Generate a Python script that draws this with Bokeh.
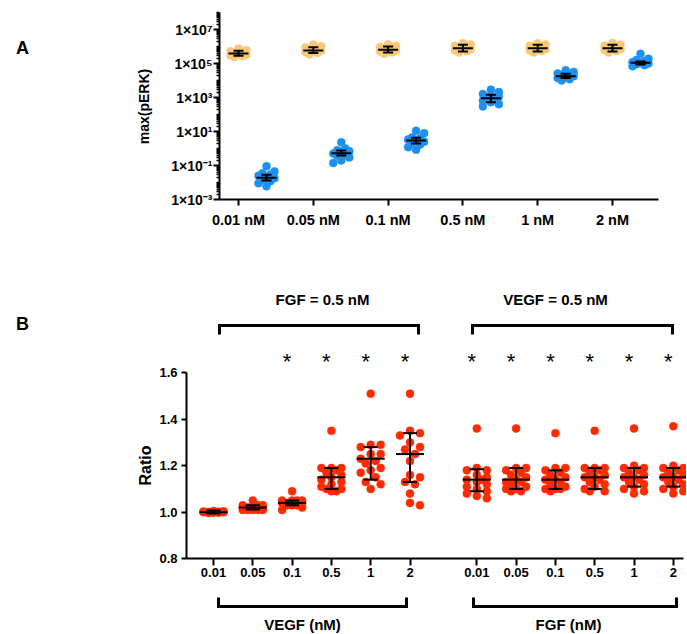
import numpy as np
from bokeh.plotting import figure
from bokeh.models import (ColumnDataSource, FixedTicker, Range1d, PrintfTickFormatter)
from bokeh.layouts import column
from bokeh.embed import file_html
from bokeh.resources import INLINE
from bokeh.core.properties import value

# ---------------- Panel A data ----------------
conc_labels_a = ["0.01 nM", "0.05 nM", "0.1 nM", "0.5 nM", "1 nM", "2 nM"]

orange_vals = [
    [7.5e5, 6.0e5, 5.2e5, 4.6e5, 4.1e5, 3.7e5, 3.3e5, 3.0e5, 2.7e5, 2.4e5],
    [1.3e6, 1.05e6, 8.8e5, 7.5e5, 6.6e5, 5.9e5, 5.3e5, 4.7e5, 4.1e5, 3.4e5],
    [1.35e6, 1.1e6, 9.4e5, 8.0e5, 7.1e5, 6.4e5, 5.7e5, 5.1e5, 4.5e5, 3.7e5],
    [1.55e6, 1.3e6, 1.1e6, 9.6e5, 8.6e5, 7.7e5, 6.9e5, 6.1e5, 5.3e5, 4.4e5],
    [1.55e6, 1.3e6, 1.1e6, 9.7e5, 8.7e5, 7.8e5, 6.9e5, 6.1e5, 5.4e5, 4.4e5],
    [1.6e6, 1.3e6, 1.12e6, 9.8e5, 8.7e5, 7.8e5, 7.0e5, 6.2e5, 5.4e5, 4.5e5],
]
orange_mean = [3.9e5, 5.8e5, 6.5e5, 7.9e5, 8.0e5, 8.0e5]
orange_lo = [2.9e5, 4.1e5, 4.5e5, 5.0e5, 5.1e5, 5.1e5]
orange_hi = [5.7e5, 9.0e5, 1.0e6, 1.25e6, 1.25e6, 1.25e6]

blue_vals = [
    [0.09, 0.045, 0.035, 0.03, 0.025, 0.021, 0.018, 0.015, 0.012, 0.009, 0.006],
    [2.3, 1.0, 0.8, 0.7, 0.6, 0.5, 0.45, 0.38, 0.3, 0.2, 0.14],
    [11.0, 8.0, 4.5, 4.0, 3.4, 3.0, 2.5, 2.1, 1.7, 1.2, 0.85],
    [2900, 2100, 1600, 1300, 1100, 950, 800, 650, 520, 400, 300],
    [4.0e4, 3.2e4, 2.6e4, 2.2e4, 2.0e4, 1.8e4, 1.6e4, 1.4e4, 1.2e4, 1.0e4],
    [3.7e5, 1.9e5, 1.6e5, 1.4e5, 1.2e5, 1.1e5, 1.0e5, 9.0e4, 8.0e4, 7.0e4],
]
blue_mean = [0.019, 0.53, 2.95, 910, 1.8e4, 1.1e5]
blue_lo = [0.013, 0.39, 2.0, 520, 1.4e4, 8.8e4]
blue_hi = [0.029, 0.76, 4.3, 1450, 2.5e4, 1.3e5]

a_major_ticks = [1e-3, 1e-1, 1e1, 1e3, 1e5, 1e7]
a_major_labels = ["1×10⁻³", "1×10⁻¹", "1×10¹", "1×10³", "1×10⁵", "1×10⁷"]

# ---------------- Panel B data ----------------
conc_labels_b = ["0.01", "0.05", "0.1", "0.5", "1", "2"]

# FGF fixed at 0.5 nM, VEGF varied
vegf_vals = [
    [1.0, 1.0, 1.0, 1.0, 1.005, 1.0, 0.998, 1.002, 1.0, 1.003, 0.997, 1.0, 1.004, 1.0, 1.001, 0.999],
    [1.05, 1.03, 1.03, 1.02, 1.02, 1.02, 1.01, 1.01, 1.01, 1.02, 1.03, 1.01, 1.02, 1.015, 1.025, 1.01],
    [1.09, 1.05, 1.05, 1.05, 1.04, 1.04, 1.04, 1.03, 1.03, 1.04, 1.02, 1.01, 1.04, 1.05, 1.03, 1.04],
    [1.35, 1.19, 1.19, 1.19, 1.18, 1.17, 1.16, 1.15, 1.14, 1.13, 1.12, 1.11, 1.10, 1.10, 1.09, 1.09],
    [1.51, 1.29, 1.29, 1.28, 1.25, 1.25, 1.22, 1.21, 1.19, 1.18, 1.17, 1.15, 1.13, 1.12, 1.10, 1.23],
    [1.51, 1.35, 1.34, 1.33, 1.28, 1.27, 1.25, 1.22, 1.16, 1.15, 1.13, 1.12, 1.08, 1.04, 1.03, 1.30],
]
vegf_mean = [1.00, 1.02, 1.04, 1.15, 1.23, 1.25]
vegf_lo = [0.994, 1.012, 1.03, 1.10, 1.14, 1.13]
vegf_hi = [1.007, 1.03, 1.05, 1.19, 1.28, 1.34]
vegf_sig = [False, False, True, True, True, True]

# VEGF fixed at 0.5 nM, FGF varied
fgf_vals = [
    [1.36, 1.19, 1.18, 1.18, 1.16, 1.15, 1.14, 1.14, 1.13, 1.12, 1.11, 1.10, 1.09, 1.08, 1.06, 1.07],
    [1.36, 1.19, 1.19, 1.18, 1.17, 1.16, 1.15, 1.14, 1.13, 1.12, 1.11, 1.10, 1.10, 1.09, 1.09, 1.13],
    [1.34, 1.19, 1.19, 1.18, 1.17, 1.16, 1.15, 1.14, 1.13, 1.12, 1.11, 1.10, 1.10, 1.10, 1.09, 1.14],
    [1.35, 1.19, 1.19, 1.19, 1.18, 1.17, 1.16, 1.15, 1.14, 1.13, 1.12, 1.11, 1.10, 1.09, 1.09, 1.15],
    [1.36, 1.20, 1.19, 1.19, 1.18, 1.17, 1.16, 1.15, 1.14, 1.13, 1.12, 1.11, 1.10, 1.09, 1.08, 1.15],
    [1.37, 1.20, 1.19, 1.19, 1.18, 1.17, 1.16, 1.15, 1.14, 1.13, 1.12, 1.11, 1.10, 1.09, 1.08, 1.15],
]
fgf_mean = [1.14, 1.14, 1.14, 1.15, 1.15, 1.15]
fgf_lo = [1.09, 1.10, 1.10, 1.10, 1.11, 1.11]
fgf_hi = [1.185, 1.19, 1.18, 1.19, 1.19, 1.19]
fgf_sig = [True, True, True, True, True, True]

b_y_ticks = [0.8, 1.0, 1.2, 1.4, 1.6]

# ---------------- styling / layout constants ----------------
FONT = "Liberation Sans"
ORANGE = "#F9C878"
BLUE = "#1E90F0"
RED = "#FF2A00"

W = 686
HA = 250
HB = 383
PAGE_L = 0
TOP_A = 0
TOP_B = TOP_A + HA

# page-pixel <-> data mapping (panel A)
A_X0, A_DX, A_Y0, A_DEC = 238.0, 74.8, 199.0, 17.0
def ax(px):
    return (px - A_X0) / A_DX
def ay(py):
    return 10 ** ((A_Y0 - py) / A_DEC - 3)

# page-pixel <-> data mapping (panel B)
B_X0, B_DX, B_Y0, B_DY = 213.0, 39.3, 511.7, 232.5
def bx(px):
    return (px - B_X0) / B_DX
def by(py):
    return 1.0 + (B_Y0 - py) / B_DY

BLUE_SHIFT = 28.0 / A_DX
GROUP_GAP = 6.7


def swarm(ypx, dmin, step, max_k):
    ypx = np.asarray(ypx, dtype=float)
    order = np.argsort(-ypx, kind="stable")
    cands = [0.0]
    for k in range(1, max_k + 1):
        cands += [k * step, -k * step]
    placed = []
    offs = np.zeros(len(ypx))
    for i in order:
        y = ypx[i]
        best, best_d = 0.0, -1.0
        for c in cands:
            d = min([np.hypot(c - px, y - py) for px, py in placed], default=1e9)
            if d >= dmin:
                best = c
                break
            if d > best_d:
                best_d, best = d, c
        offs[i] = best
        placed.append((best, y))
    return offs


def base_style(p):
    p.outline_line_color = None
    p.xgrid.visible = False
    p.ygrid.visible = False
    p.background_fill_color = "white"
    p.border_fill_color = "white"
    for a in p.axis:
        a.axis_line_width = 2
        a.axis_line_color = "black"
        a.major_tick_line_width = 2
        a.major_tick_line_color = "black"
        a.major_tick_in = 0
        a.minor_tick_in = 0
        a.major_label_text_font = FONT
        a.major_label_text_font_style = "bold"
        a.major_label_text_font_size = "13px"
        a.major_label_text_color = "black"


def txt(p, x, y, s, size, angle=0.0, align="center", baseline="middle", style="bold"):
    p.text(x=[x], y=[y], text=[s], angle=angle, text_font=value(FONT),
           text_font_style=style, text_font_size=size, text_align=align,
           text_baseline=baseline, text_color="black")


def error_bars(p, centers, mean, lo, hi, mean_w, cap_w):
    src = ColumnDataSource(dict(x=centers, m=mean, lo=lo, hi=hi))
    p.segment(x0="x", y0="lo", x1="x", y1="hi", source=src, line_width=2,
              line_color="black")
    p.scatter("x", "lo", source=src, marker="dash", size=cap_w, line_width=2,
              line_color="black")
    p.scatter("x", "hi", source=src, marker="dash", size=cap_w, line_width=2,
              line_color="black")
    p.scatter("x", "m", source=src, marker="dash", size=mean_w, line_width=2,
              line_color="black")


# ======================= Panel A =======================
pA = figure(width=W, height=HA,
            x_range=Range1d(ax(PAGE_L), ax(PAGE_L + W)),
            y_range=Range1d(ay(TOP_A + HA), ay(TOP_A)),
            y_axis_type="log", output_backend="svg",
            toolbar_location=None, min_border=0)
base_style(pA)

xa = pA.xaxis[0]
xa.fixed_location = 1e-3
xa.bounds = (ax(219), ax(658))
xa.ticker = FixedTicker(ticks=list(range(len(conc_labels_a))))
xa.major_label_overrides = {i: s for i, s in enumerate(conc_labels_a)}
xa.major_tick_out = 6
xa.minor_tick_line_color = None
xa.major_label_standoff = 6
xa.major_label_text_font_size = "14.5px"

ya = pA.yaxis[0]
ya.fixed_location = ax(219)
ya.bounds = (1e-3, 1e8)
minor = [m * 10.0 ** k for k in range(-3, 8) for m in range(2, 10)]
minor += [1e-2, 1e0, 1e2, 1e4, 1e6, 1e8]
ya.ticker = FixedTicker(ticks=a_major_ticks, minor_ticks=minor)
ya.major_label_overrides = dict(zip(a_major_ticks, a_major_labels))
ya.major_tick_out = 6
ya.minor_tick_out = 3
ya.minor_tick_line_width = 1.5
ya.minor_tick_line_color = "black"
ya.major_label_standoff = 1
ya.major_label_text_font_size = "14px"

for series, color, shift, mean, lo, hi in [
        (orange_vals, ORANGE, 0.0, orange_mean, orange_lo, orange_hi),
        (blue_vals, BLUE, BLUE_SHIFT, blue_mean, blue_lo, blue_hi)]:
    xs, ys = [], []
    for i, vals in enumerate(series):
        offs = swarm(A_DEC * np.log10(vals), 7.0, 4.0, 2)
        xs += list(i + shift + offs / A_DX)
        ys += list(vals)
    pA.scatter(xs, ys, size=8, fill_color=color, line_color=color, line_width=0.5)
    centers = [i + shift for i in range(len(series))]
    error_bars(pA, centers, mean, lo, hi, 20, 10)

txt(pA, ax(22), ay(47), "A", "18px")
txt(pA, ax(143), ay(106), "max(pERK)", "14px", angle=np.pi / 2)

# ======================= Panel B =======================
pB = figure(width=W, height=HB,
            x_range=Range1d(bx(PAGE_L), bx(PAGE_L + W)),
            y_range=Range1d(by(TOP_B + HB), by(TOP_B)),
            output_backend="svg", toolbar_location=None, min_border=0)
base_style(pB)

vegf_pos = [float(i) for i in range(len(conc_labels_b))]
fgf_pos = [GROUP_GAP + i for i in range(len(conc_labels_b))]
all_pos = vegf_pos + fgf_pos

xb = pB.xaxis[0]
xb.fixed_location = 0.8
xb.bounds = (bx(186), bx(683))
xb.ticker = FixedTicker(ticks=all_pos)
xb.major_label_overrides = dict(zip(all_pos, conc_labels_b + conc_labels_b))
xb.major_tick_out = 7
xb.minor_tick_line_color = None
xb.major_label_standoff = 2

yb = pB.yaxis[0]
yb.fixed_location = bx(186)
yb.bounds = (0.8, 1.6)
yb.ticker = FixedTicker(ticks=b_y_ticks)
yb.formatter = PrintfTickFormatter(format="%.1f")
yb.major_tick_out = 5
yb.minor_tick_line_color = None
yb.major_label_standoff = 4

for positions, series, mean, lo, hi, sig in [
        (vegf_pos, vegf_vals, vegf_mean, vegf_lo, vegf_hi, vegf_sig),
        (fgf_pos, fgf_vals, fgf_mean, fgf_lo, fgf_hi, fgf_sig)]:
    xs, ys = [], []
    for pos, vals in zip(positions, series):
        offs = swarm(B_DY * np.asarray(vals), 7.5, 5.0, 2)
        xs += list(pos + offs / B_DX)
        ys += list(vals)
    pB.scatter(xs, ys, size=8, fill_color=RED, line_color=RED, line_width=0.5)
    error_bars(pB, positions, mean, lo, hi, 28, 14)
    star_x = [p - 5.0 / B_DX for p, s in zip(positions, sig) if s]
    pB.text(x=star_x, y=[by(360.5)] * len(star_x), text=["*"] * len(star_x),
            text_font=value(FONT), text_font_style="normal", text_font_size="22px",
            text_align="center", text_baseline="alphabetic", text_color="black")

# brackets
top_h, top_e = by(325), by(334)
low_h, low_e = by(606), by(597)
bxs = [[bx(219), bx(219), bx(418), bx(418)],
       [bx(472), bx(472), bx(672), bx(672)],
       [bx(218), bx(218), bx(406), bx(406)],
       [bx(473), bx(473), bx(676), bx(676)]]
bys = [[top_e, top_h, top_h, top_e], [top_e, top_h, top_h, top_e],
       [low_e, low_h, low_h, low_e], [low_e, low_h, low_h, low_e]]
pB.multi_line(bxs, bys, line_width=3, line_color="black", line_join="miter")

txt(pB, bx(322), by(299), "FGF = 0.5 nM", "15px")
txt(pB, bx(555), by(299), "VEGF = 0.5 nM", "15px")
txt(pB, bx(302), by(624), "VEGF (nM)", "15px")
txt(pB, bx(568), by(624), "FGF (nM)", "15px")
txt(pB, bx(22), by(323), "B", "18px")
txt(pB, bx(145), by(465), "Ratio", "16px", angle=np.pi / 2)

layout = column(pA, pB, spacing=0)
open("out.html", "w").write(file_html(layout, INLINE))
